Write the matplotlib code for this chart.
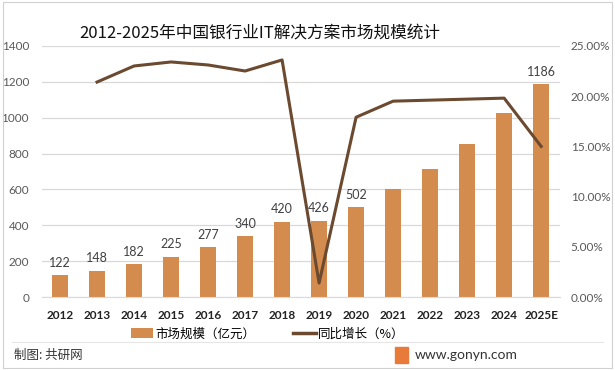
import numpy as np
import matplotlib.pyplot as plt
from matplotlib.lines import Line2D
from matplotlib.patches import Patch, Rectangle

plt.rcParams['font.family'] = ['Noto Sans CJK SC', 'DejaVu Sans']

# date
years = ['2012', '2013', '2014', '2015', '2016', '2017', '2018', '2019',
         '2020', '2021', '2022', '2023', '2024', '2025E']
market = [122, 148, 182, 225, 277, 340, 420, 426, 502, 600, 714, 853, 1026, 1186]
# etichetele afisate pe bare (unele lipsesc in original)
shown = [True] * 9 + [False] * 4 + [True]
growth = [None, 21.4, 23.0, 23.4, 23.1, 22.5, 23.6, 1.4, 17.9, 19.5, 19.6, 19.7, 19.8, 15.0]

bar_color = '#D48B4E'
line_color = '#6B4A30'
num_font = ['Lato', 'DejaVu Sans']

fig = plt.figure(figsize=(6.15, 3.7), dpi=100)
ax = fig.add_axes([0.0675, 0.197, 0.8425, 0.679])
ax2 = ax.twinx()

x = np.arange(len(years))
ax.bar(x, market, width=0.42, color=bar_color, zorder=2)
for xi, v, s in zip(x, market, shown):
    if s:
        ax.text(xi, v + 35, str(v), ha='center', va='bottom', fontsize=9,
                color='#404040', family=num_font)

gx = [xi for xi, g in zip(x, growth) if g is not None]
gy = [g for g in growth if g is not None]
ax2.plot(gx, gy, color=line_color, linewidth=2.2, zorder=3)

ax.set_xlim(-0.5, len(years) - 0.5)
ax.set_ylim(0, 1400)
ax.set_yticks(np.arange(0, 1401, 200))
ax.set_yticklabels([str(t) for t in range(0, 1401, 200)], family=num_font)
ax2.set_ylim(0, 25)
ax2.set_yticks(np.arange(0, 25.1, 5))
ax2.set_yticklabels(['%.2f%%' % t for t in np.arange(0, 25.1, 5)], family=num_font)

ax.set_xticks(x)
ax.set_xticklabels(years, fontsize=8.5, color='#222222', fontweight='bold', family=num_font)
ax.tick_params(axis='y', labelsize=8.5, colors='#595959', length=0, pad=9)
ax2.tick_params(axis='y', labelsize=8.5, colors='#595959', length=0, pad=8)
ax.tick_params(axis='x', length=0, pad=9)

ax.grid(axis='y', color='#d9d9d9', linewidth=0.9, zorder=0)
ax.set_axisbelow(True)
for a in (ax, ax2):
    for sp in a.spines.values():
        sp.set_visible(False)
ax.spines['bottom'].set_visible(True)
ax.spines['bottom'].set_color('#d9d9d9')
ax.set_zorder(ax2.get_zorder() - 1)
ax.patch.set_visible(False)

fig.text(0.423, 0.911, '2012-2025年中国银行业IT解决方案市场规模统计', ha='center', va='center',
         fontsize=12, color='#111111')

handles = [Patch(facecolor=bar_color, edgecolor='none'),
           Line2D([0], [0], color=line_color, linewidth=2.5)]
fig.legend(handles, ['市场规模（亿元）', '同比增长（%）'], loc='center', bbox_to_anchor=(0.435, 0.097),
           ncol=2, frameon=False, fontsize=9, handlelength=1.8, handleheight=0.8,
           handletextpad=0.2, columnspacing=3.0)

# linie de separare si subsol
fig.add_artist(Line2D([0.02, 0.98], [0.076, 0.076], color='#e6e6e6', linewidth=0.8))
fig.text(0.022, 0.04, '制图: 共研网', fontsize=9, color='#333333', va='center')
fig.text(0.675, 0.04, 'www.gonyn.com', fontsize=10, color='#333333', va='center', ha='left',
         family=num_font)
fig.add_artist(Rectangle((0.643, 0.018), 0.02, 0.045, color='#E87A3A', transform=fig.transFigure))
fig.add_artist(Rectangle((0.005, 0.005), 0.99, 0.99, fill=False, edgecolor='#d0d0d0',
                         linewidth=0.8, transform=fig.transFigure))

fig.savefig('out.png', dpi=100)
